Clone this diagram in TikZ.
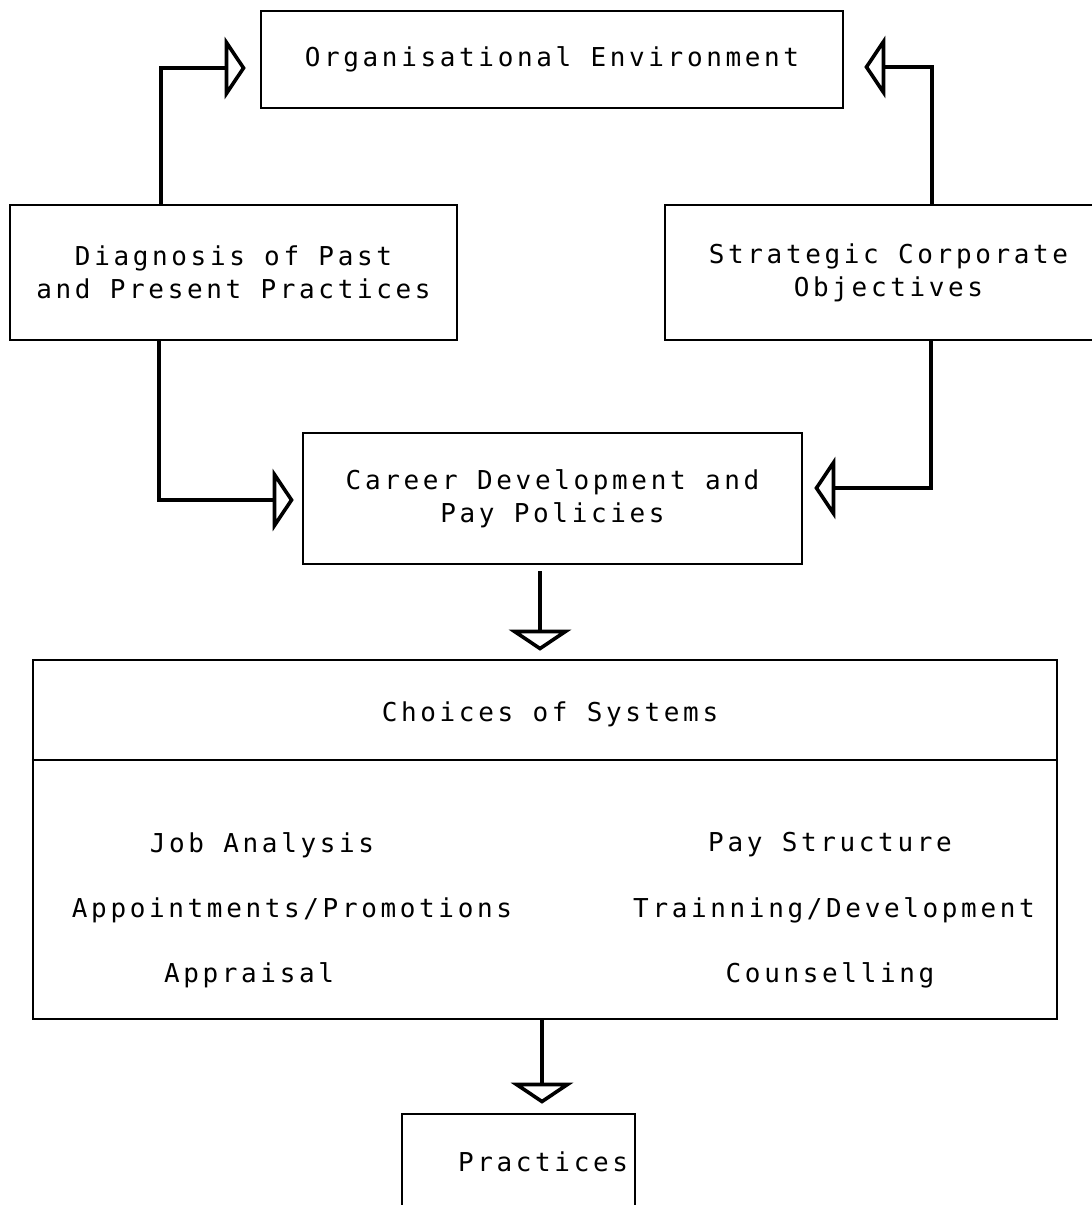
\documentclass[tikz,border=0pt]{standalone}
\usepackage{fontspec}
\newfontfamily\chartfont[LetterSpace=14]{DejaVu Sans Mono}
\usetikzlibrary{arrows.meta}

\begin{document}
\begin{tikzpicture}[x=1pt,y=-1pt,
  chart text/.style={font=\chartfont\fontsize{26}{33}\selectfont, align=center, inner sep=0pt},
  box/.style={draw, line width=2.6pt, rectangle, inner sep=0pt, chart text},
  conn/.style={line width=4.4pt, line join=miter,
    -{Triangle[open, length=21pt, width=62pt, line width=3.6pt]}},
  divider/.style={line width=1.6pt}
]
\clip (0,0) rectangle (1092,1205);
\fill[white] (0,0) rectangle (1092,1205);

% boxes
\node[box, minimum width=582pt, minimum height=97pt] (org) at (552,59.5)
  {Organisational Environment};
\node[box, minimum width=447pt, minimum height=135pt] (diag) at (233.5,272.5)
  {Diagnosis of Past\\and Present Practices};
\node[box, minimum width=447pt, minimum height=135pt] (strat) at (888.5,272.5)
  {Strategic Corporate\\Objectives};
\node[box, minimum width=499pt, minimum height=131pt] (career) at (552.5,498.5)
  {Career Development and\\Pay Policies};
\node[box, minimum width=1024pt, minimum height=359pt] (choices) at (545,839.5) {};
\node[box, minimum width=233pt, minimum height=101pt] (practices) at (518.5,1164.5) {};
\node[chart text] (practicestext) at (543,1162) {Practices};

% contents of the systems box
\draw[divider] (choices.west |- 0,760) -- (choices.east |- 0,760);
\node[chart text] (systitle) at (550,714) {Choices of Systems};
\node[chart text] (job)   at (262,845) {Job Analysis};
\node[chart text] (appt)  at (292,910) {Appointments/Promotions};
\node[chart text] (appr)  at (249,975) {Appraisal};
\node[chart text] (pay)   at (830,845) {Pay Structure};
\node[chart text] (train) at (834,910) {Trainning/Development};
\node[chart text] (couns) at (830,975) {Counselling};

% connectors
\draw[conn, shorten >=14pt] ([xshift=152pt]diag.north west) |- ([yshift=-8.5pt]org.west);
\draw[conn, shorten >=20pt] ([xshift=268pt]strat.north west) |- ([yshift=-7.5pt]org.east);
\draw[conn, shorten >=8pt] ([xshift=150pt]diag.south west) |- ([yshift=-1.5pt]career.west);
\draw[conn, shorten >=11pt] ([xshift=267pt]strat.south west) |- ([yshift=10.5pt]career.east);
\draw[conn, shorten <=6pt, shorten >=8pt] ([xshift=-12.5pt]career.south) -- ([xshift=-5pt]choices.north);
\draw[conn, shorten >=9pt] ([xshift=-3pt]choices.south) -- ([xshift=-3pt]choices.south |- practices.north);
\end{tikzpicture}
\end{document}
